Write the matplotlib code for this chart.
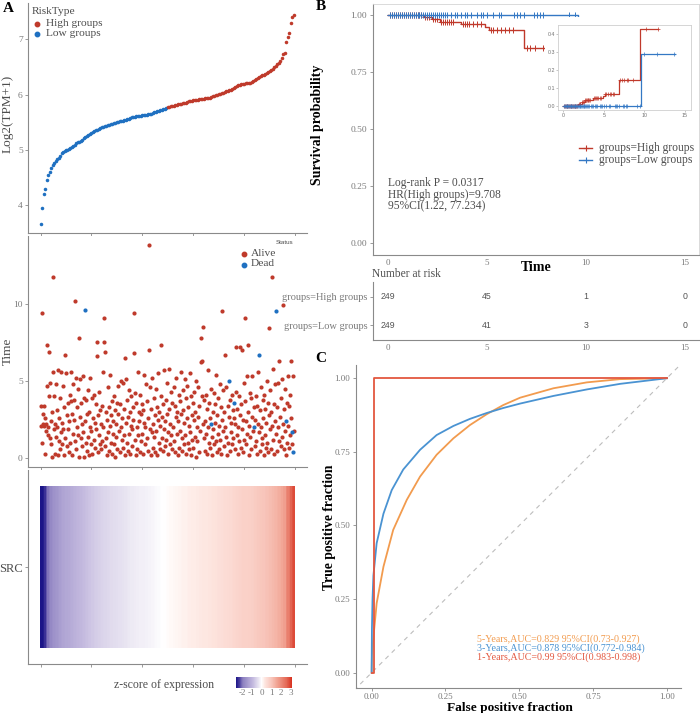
import numpy as np
import matplotlib
matplotlib.use("Agg")
import matplotlib.pyplot as plt
from matplotlib.colors import LinearSegmentedColormap, Normalize
from matplotlib.cm import ScalarMappable
from matplotlib.lines import Line2D
from matplotlib.patches import Rectangle

# ---------------- data ----------------
# panel A: SRC expression, sorted (one value every ~3 samples)
expr = [3.67, 3.95, 4.20, 4.30, 4.45, 4.55, 4.60, 4.68, 4.73, 4.77, 4.80, 4.83, 4.86, 4.90, 4.94, 4.96,
        4.98, 5.00, 5.01, 5.02, 5.04, 5.06, 5.08, 5.10, 5.12, 5.14, 5.15, 5.17, 5.19, 5.21, 5.23, 5.25,
        5.27, 5.29, 5.31, 5.32, 5.34, 5.36, 5.37, 5.38, 5.40, 5.41, 5.42, 5.43, 5.44, 5.45, 5.46, 5.47,
        5.48, 5.49, 5.49, 5.50, 5.51, 5.52, 5.52, 5.53, 5.54, 5.55, 5.56, 5.57, 5.58, 5.59, 5.59, 5.60,
        5.61, 5.61, 5.62, 5.62, 5.63, 5.63, 5.64, 5.64, 5.65, 5.65, 5.66, 5.67, 5.68, 5.69, 5.70, 5.71,
        5.72, 5.73, 5.74, 5.75, 5.76, 5.77, 5.78, 5.79, 5.79, 5.80, 5.81, 5.82, 5.83, 5.83, 5.84, 5.85,
        5.86, 5.86, 5.87, 5.88, 5.88, 5.89, 5.90, 5.90, 5.91, 5.91, 5.92, 5.92, 5.93, 5.93, 5.94, 5.94,
        5.95, 5.95, 5.96, 5.97, 5.98, 5.99, 6.00, 6.01, 6.02, 6.03, 6.04, 6.05, 6.06, 6.07, 6.08, 6.09,
        6.11, 6.12, 6.14, 6.15, 6.17, 6.18, 6.19, 6.20, 6.20, 6.21, 6.21, 6.22, 6.22, 6.23, 6.25, 6.27,
        6.29, 6.31, 6.33, 6.34, 6.35, 6.36, 6.38, 6.40, 6.41, 6.43, 6.45, 6.47, 6.50, 6.52, 6.55, 6.58,
        6.61, 6.66, 6.73, 6.75, 6.96, 7.05, 7.12, 7.30, 7.40, 7.45]
n_samples = 498
n_low = 249

# panel A: survival time per sample (in risk order)
surv_time = [
    2.1, 3.4, 1.0, 9.4, 2.2, 2.9, 3.4, 2.1, 0.3, 2.6, 1.8, 2.2, 7.3, 4.7, 2.0, 1.5, 6.9, 4.0, 4.9, 1.3,
    0.9, 2.4, 3.0, 0.1, 5.6, 11.7, 1.9, 4.0, 2.2, 0.3, 4.8, 1.4, 3.1, 2.0, 0.2, 5.7, 1.1, 2.6, 3.9, 0.6,
    1.7, 5.6, 2.3, 0.9, 4.7, 1.9, 0.2, 3.3, 1.3, 6.7, 5.5, 2.8, 0.8, 1.9, 3.6, 0.4, 2.4, 4.1, 1.0, 5.6,
    3.7, 2.9, 0.2, 1.6, 4.8, 2.5, 3.8, 10.2, 1.1, 5.2, 0.6, 2.0, 3.3, 1.5, 4.5, 7.8, 0.1, 2.7, 5.1, 1.3,
    3.6, 0.8, 2.2, 5.3, 1.7, 0.1, 3.9, 9.6, 2.4, 1.0, 3.8, 0.5, 2.9, 1.4, 4.4, 0.2, 3.0, 2.0, 5.2, 0.9,
    1.8, 3.9, 0.3, 2.6, 1.2, 4.1, 2.3, 0.7, 3.5, 1.9, 7.5, 6.6, 0.4, 2.8, 1.5, 4.3, 0.9, 3.1, 2.2, 0.6,
    3.4, 1.1, 5.6, 2.0, 9.1, 7.5, 0.8, 6.9, 1.3, 3.0, 2.5, 0.2, 4.6, 1.7, 3.3, 0.5, 2.1, 5.4, 1.0, 2.8,
    0.3, 3.7, 1.6, 2.4, 0.9, 4.0, 3.1, 0.1, 2.2, 1.4, 3.6, 0.6, 2.9, 4.7, 1.8, 0.4, 3.5, 2.0, 5.0, 1.2,
    2.6, 0.7, 4.9, 1.5, 3.2, 0.2, 6.5, 2.3, 5.1, 1.0, 3.8, 0.5, 2.7, 4.4, 1.6, 3.0, 0.3, 2.1, 4.0, 1.9,
    0.8, 3.3, 2.5, 9.4, 6.8, 1.2, 4.2, 0.2, 3.6, 2.0, 0.6, 5.6, 1.5, 3.0, 2.4, 0.4, 4.1, 1.1, 2.9, 3.5,
    1.6, 0.3, 3.1, 2.3, 5.4, 0.9, 2.0, 4.8, 1.3, 3.7, 0.5, 2.6, 7.0, 13.8, 1.9, 4.6, 0.2, 3.2, 1.7, 5.2,
    2.2, 0.7, 3.9, 1.4, 2.8, 0.4, 4.5, 1.8, 3.3, 0.2, 2.5, 5.5, 1.0, 3.0, 0.6, 2.1, 4.0, 7.3, 1.3, 2.7,
    0.5, 3.5, 1.9, 5.7, 2.4, 0.8, 3.8, 1.2, 4.9, 2.9, 0.3, 1.7, 3.2, 5.8, 0.9, 2.2, 4.3, 1.5, 3.6, 0.6,
    2.0, 4.6, 1.1, 3.4, 0.4, 2.7, 5.2, 1.6, 3.0, 0.2, 2.4, 4.1, 0.7, 3.7, 1.8, 5.6, 2.9, 0.5, 1.3, 4.4,
    3.1, 0.9, 2.3, 5.1, 1.5, 3.9, 0.3, 2.6, 4.7, 1.0, 3.3, 0.6, 2.1, 5.5, 1.7, 4.0, 0.2, 2.8, 1.2, 3.6,
    0.7, 2.5, 4.3, 1.4, 3.0, 0.1, 5.0, 2.0, 1.1, 4.6, 2.7, 0.4, 3.4, 1.8, 7.8, 6.2, 4.0, 6.3, 2.2, 8.5,
    1.3, 3.8, 0.5, 2.4, 4.1, 1.6, 0.3, 3.2, 2.0, 5.7, 1.0, 3.6, 0.7, 2.6, 4.5, 2.2, 1.4, 0.2, 3.0, 1.9,
    4.2, 0.9, 2.3, 3.5, 1.1, 5.4, 0.4, 2.8, 1.6, 3.9, 0.6, 2.1, 4.8, 1.2, 3.3, 0.3, 9.5, 2.5, 1.8, 4.4,
    0.8, 3.0, 2.0, 6.7, 1.4, 4.6, 0.2, 3.4, 1.0, 2.7, 5.0, 0.5, 3.8, 1.7, 2.3, 4.1, 0.9, 3.1, 1.3, 2.6,
    3.6, 0.6, 2.2, 4.3, 7.2, 1.5, 3.2, 0.3, 2.0, 4.0, 1.1, 7.2, 2.8, 0.7, 3.5, 1.9, 7.0, 0.4, 2.5, 4.9,
    1.2, 3.7, 9.1, 0.9, 2.4, 5.3, 1.6, 3.0, 7.3, 0.2, 2.1, 4.2, 1.4, 3.9, 0.6, 2.7, 5.3, 1.8, 3.3, 2.0,
    0.8, 2.5, 4.0, 1.1, 3.4, 0.3, 2.2, 5.6, 1.7, 6.7, 0.5, 3.1, 2.0, 4.6, 1.3, 0.9, 3.8, 2.6, 0.2, 4.1,
    1.5, 3.2, 0.7, 2.3, 5.0, 1.0, 3.6, 0.4, 2.8, 8.4, 1.9, 4.4, 0.6, 3.0, 11.7, 2.1, 1.2, 5.8, 3.5, 0.3,
    2.4, 4.8, 9.5, 1.6, 3.3, 0.5, 2.0, 4.9, 1.1, 6.3, 2.7, 0.8, 3.9, 1.4, 5.1, 2.2, 9.9, 0.6, 3.2, 1.8,
    4.5, 0.2, 2.4, 3.6, 1.0, 5.3, 2.1, 0.7, 3.4, 1.5, 4.1, 6.3, 2.6, 0.9, 1.7, 0.4, 5.3, 1.8]
dead_samples = [87, 335, 370, 380, 419, 429, 462, 482, 494, 495]

# panel B: Kaplan-Meier
km_high_t = [0, 1.85, 2.25, 2.65, 3.67, 4.9, 5.1, 6.86, 9.45, 11.7]
km_high_s = [1.0, 0.993, 0.981, 0.970, 0.959, 0.948, 0.935, 0.854, 0.57, 0.57]
km_low_t = [0, 9.6, 13.8]
km_low_s = [1.0, 0.712, 0.712]
cens_high = [0.1, 0.2, 0.3, 0.4, 0.5, 0.6, 0.7, 0.8, 0.9, 1.0, 1.1, 1.2, 1.3, 1.4, 1.5, 1.6, 1.7,
             1.9, 2.0, 2.1, 2.3, 2.4, 2.5, 2.7, 2.8, 2.9, 3.0, 3.1, 3.2, 3.3, 3.8, 3.9, 4.0, 4.1,
             4.3, 4.5, 4.7, 5.2, 5.3, 5.5, 5.7, 5.9, 6.1, 6.3, 7.0, 7.2, 7.45, 7.85, 7.96, 8.57,
             10.2, 11.7]
cens_low = [0.1, 0.2, 0.3, 0.4, 0.5, 0.6, 0.7, 0.8, 0.9, 1.0, 1.1, 1.2, 1.3, 1.4, 1.5, 1.6, 1.7,
            1.8, 1.9, 2.0, 2.1, 2.2, 2.3, 2.4, 2.5, 2.6, 2.7, 2.8, 2.9, 3.0, 3.2, 3.4, 3.5, 3.7,
            3.9, 4.0, 4.2, 4.5, 4.7, 4.8, 5.0, 5.3, 5.6, 5.7, 6.35, 6.5, 6.65, 6.85, 7.36, 7.53,
            7.7, 7.83, 9.12, 9.46, 10.0, 11.6, 13.7]
risk_times = [0, 5, 10, 15]
risk_high = [249, 45, 1, 0]
risk_low = [249, 41, 3, 0]
km_text = ["Log-rank P = 0.0317", "HR(High groups)=9.708", "95%CI(1.22, 77.234)"]

# panel C: time-dependent ROC
fpr_5y = [0, 0.001, 0.006, 0.017, 0.04, 0.073, 0.119, 0.164, 0.22, 0.277, 0.333, 0.39, 0.446,
          0.503, 0.616, 0.729, 0.842, 1.0]
tpr_5y = [0, 0.06, 0.12, 0.236, 0.36, 0.485, 0.587, 0.666, 0.74, 0.796, 0.841, 0.878, 0.909,
          0.934, 0.966, 0.986, 0.997, 1.0]
fpr_3y = [0, 0.001, 0.003, 0.006, 0.017, 0.04, 0.068, 0.107, 0.164, 0.22, 0.277, 0.333, 0.39,
          0.446, 0.503, 0.616, 0.729, 0.842, 1.0]
tpr_3y = [0, 0.15, 0.25, 0.33, 0.44, 0.54, 0.62, 0.69, 0.757, 0.807, 0.838, 0.862, 0.882,
          0.899, 0.914, 0.940, 0.962, 0.981, 1.0]
fpr_1y = [0, 0.009, 0.009, 1.0]
tpr_1y = [0, 0, 1.0, 1.0]
roc_labels = ["5-Years,AUC=0.829 95%CI(0.73-0.927)",
              "3-Years,AUC=0.878 95%CI(0.772-0.984)",
              "1-Years,AUC=0.99 95%CI(0.983-0.998)"]

# ---------------- style ----------------
plt.rcParams['font.family'] = ['Liberation Serif', 'DejaVu Serif']
RED = "#BF3A2B"
BLUE = "#1F70C1"
KM_RED = "#C0392B"
KM_BLUE = "#3478C4"
ROC_ORANGE = "#F29B4E"
ROC_BLUE = "#4A93D2"
ROC_RED = "#E3573F"
AX_COL = "#8a8a8a"
TICK_COL = "#7a7a7a"
LAB_COL = "#4d4d4d"

W, H = 700, 713
fig = plt.figure(figsize=(7, 7.13), dpi=100)


def box(x0, y0, x1, y1):
    return [x0 / W, 1 - y1 / H, (x1 - x0) / W, (y1 - y0) / H]


def ftext(x, y, s, **kw):
    return fig.text(x / W, 1 - y / H, s, **kw)


def fdot(x, y, color, ms=3.2, marker='o', **kw):
    fig.add_artist(Line2D([x / W], [1 - y / H], marker=marker, ms=ms, color=color, lw=0,
                          transform=fig.transFigure, **kw))


def classic(ax, ls=6.8):
    for s in ['top', 'right']:
        ax.spines[s].set_visible(False)
    for s in ['left', 'bottom']:
        ax.spines[s].set_color(AX_COL)
        ax.spines[s].set_linewidth(0.8)
    ax.tick_params(colors=AX_COL, labelcolor=TICK_COL, labelsize=ls, length=2.5, width=0.6, pad=1.5)


expr = np.array(expr)
rank = np.linspace(0, n_samples - 1, len(expr))
is_low = rank < n_low

# ---- A1: expression ----
ax1 = fig.add_axes(box(28.3, 3, 307, 233))
ax1.scatter(rank[is_low], expr[is_low], s=6.5, color=BLUE, lw=0)
ax1.scatter(rank[~is_low], expr[~is_low], s=6.5, color=RED, lw=0)
ax1.set_xlim(-24, 523)
ax1.set_ylim(3.5, 7.66)
ax1.set_xticks(range(0, 501, 100))
ax1.set_xticklabels([])
ax1.set_yticks([4, 5, 6, 7])
classic(ax1)
ftext(8, 114, "Log2(TPM+1)", rotation=90, ha='center', va='center', fontsize=9.5, color=LAB_COL)
ftext(32, 11, "RiskType", ha='left', va='center', fontsize=8.2, color=LAB_COL)
fdot(37, 23.5, RED)
ftext(46, 23, "High groups", ha='left', va='center', fontsize=8.2, color=LAB_COL)
fdot(37, 33.5, BLUE)
ftext(46, 33, "Low groups", ha='left', va='center', fontsize=8.2, color=LAB_COL)

# ---- A2: survival time / status ----
t_arr = np.array(surv_time)
t_rank = np.arange(len(t_arr))
dead = np.isin(t_rank, dead_samples)
ax2 = fig.add_axes(box(28.3, 236, 307, 467))
ax2.scatter(t_rank[~dead], t_arr[~dead], s=9, color=RED, lw=0)
ax2.scatter(t_rank[dead], t_arr[dead], s=9, color=BLUE, lw=0)
ax2.set_xlim(-24, 523)
ax2.set_ylim(-0.56, 14.38)
ax2.set_xticks(range(0, 501, 100))
ax2.set_xticklabels([])
ax2.set_yticks([0, 5, 10])
classic(ax2)
ftext(8, 351, "Time", rotation=90, ha='center', va='center', fontsize=9.5, color=LAB_COL)
ftext(285, 242, "Status", ha='center', va='center', fontsize=4.5, color=LAB_COL,
      family=['Liberation Sans', 'DejaVu Sans'])
fdot(244, 253.5, RED)
ftext(251, 253, "Alive", ha='left', va='center', fontsize=8.2, color=LAB_COL)
fdot(244, 264.5, BLUE)
ftext(251, 264, "Dead", ha='left', va='center', fontsize=8.2, color=LAB_COL)

# ---- A3: heatmap ----
z = (expr - expr.mean()) / expr.std()
cmap = LinearSegmentedColormap.from_list(
    "zs", [(0.0, "#1b1588"), (0.06, "#4a3f9e"), (0.12, "#8c80c0"), (0.3, "#c4badf"),
           (0.39, "#e4dfef"), (0.456, "#ffffff"), (0.52, "#fde4de"), (0.63, "#f8c7bd"),
           (0.72, "#f2a898"), (0.9, "#e46a57"), (1.0, "#d7301f")])
norm = Normalize(vmin=-2.6, vmax=3.1)
ax3 = fig.add_axes(box(28.3, 470, 307, 664))
step = rank[1] - rank[0]
edges = np.concatenate([[rank[0] - step / 2], (rank[:-1] + rank[1:]) / 2, [rank[-1] + step / 2]])
ax3.pcolormesh(edges, [-0.5, 0.5], z[None, :], cmap=cmap, norm=norm, shading='flat')
ax3.set_xlim(-24, 523)
ax3.set_ylim(-0.602, 0.602)
ax3.set_xticks(range(0, 501, 100))
ax3.set_xticklabels([])
ax3.set_yticks([0])
ax3.set_yticklabels(["SRC"])
classic(ax3, ls=9)
ax3.tick_params(axis='y', labelcolor=LAB_COL)

cax = fig.add_axes(box(236, 677, 292, 688))
cb = fig.colorbar(ScalarMappable(norm=norm, cmap=cmap), cax=cax, orientation='horizontal',
                  ticks=[-2, -1, 0, 1, 2, 3])
cb.outline.set_visible(False)
cax.tick_params(labelsize=6.5, length=0, pad=1, labelcolor=TICK_COL)
cax.set_xticklabels(["-2", "-1", "0", "1", "2", "3"])
ftext(164, 685, "z-score of expression", ha='center', va='center', fontsize=8.5, color=LAB_COL)

# ---- B: Kaplan-Meier ----
def surv_at(times, surv, c):
    idx = np.searchsorted(times, c, side='right') - 1
    return np.array(surv)[idx]


axb = fig.add_axes(box(372.7, 4, 699, 255))
axb.step(km_high_t, km_high_s, where='post', color=KM_RED, lw=1.0)
axb.step(km_low_t, km_low_s, where='post', color=KM_BLUE, lw=1.0)
axb.plot(cens_high, surv_at(km_high_t, km_high_s, cens_high), '+', color=KM_RED, ms=4, mew=0.7)
axb.plot(cens_low, surv_at(km_low_t, km_low_s, cens_low), '+', color=KM_BLUE, ms=4, mew=0.7)
axb.set_xlim(-0.76, 15.7)
axb.set_ylim(-0.051, 1.048)
axb.set_xticks(risk_times)
axb.set_yticks([0, 0.25, 0.5, 0.75, 1.0])
axb.set_yticklabels(["0.00", "0.25", "0.50", "0.75", "1.00"])
classic(axb)
axb.tick_params(axis='x', length=0, pad=3, labelsize=6.5)
for s in ['top', 'right']:
    axb.spines[s].set_visible(True)
    axb.spines[s].set_color("#d5d5d5")
    axb.spines[s].set_linewidth(0.6)
for i, s in enumerate(km_text):
    axb.text(0, 0.264 - i * 0.0505, s, ha='left', va='center', fontsize=8.3, color=LAB_COL)
ftext(536, 267, "Time", ha='center', va='center', fontsize=10, weight='bold')
ftext(317, 125, "Survival probability", rotation=90, ha='center', va='center', fontsize=10,
      weight='bold')

# legend of B
fig.add_artist(Line2D([579 / W, 592 / W], [1 - 148 / H] * 2, color=KM_RED, lw=1.0,
                      transform=fig.transFigure))
fdot(585.5, 148, KM_RED, ms=4, marker='+', mew=0.8)
ftext(599, 148, "groups=High groups", ha='left', va='center', fontsize=8.3, color=LAB_COL)
fig.add_artist(Line2D([579 / W, 592 / W], [1 - 160 / H] * 2, color=KM_BLUE, lw=1.0,
                      transform=fig.transFigure))
fdot(585.5, 160, KM_BLUE, ms=4, marker='+', mew=0.8)
ftext(599, 160, "groups=Low groups", ha='left', va='center', fontsize=8.3, color=LAB_COL)

# inset: cumulative events
fig.add_artist(Rectangle((545 / W, 1 - 121 / H), 151 / W, 104 / H, transform=fig.transFigure,
                         facecolor='white', edgecolor='none', zorder=4))
axi = fig.add_axes(box(558.3, 25, 690.7, 110))
axi.set_zorder(5)
axi.step(km_high_t, 1 - np.array(km_high_s), where='post', color=KM_RED, lw=0.9)
axi.step(km_low_t, 1 - np.array(km_low_s), where='post', color=KM_BLUE, lw=0.9)
axi.plot(cens_high, 1 - surv_at(km_high_t, km_high_s, cens_high), '+', color=KM_RED, ms=3, mew=0.5)
axi.plot(cens_low, 1 - surv_at(km_low_t, km_low_s, cens_low), '+', color=KM_BLUE, ms=3, mew=0.5)
axi.set_xlim(-0.62, 15.71)
axi.set_ylim(-0.024, 0.452)
axi.set_xticks([0, 5, 10, 15])
axi.set_yticks([0, 0.1, 0.2, 0.3, 0.4])
axi.set_yticklabels(["0.0", "0.1", "0.2", "0.3", "0.4"])
for s in axi.spines.values():
    s.set_color("#cfcfcf")
    s.set_linewidth(0.6)
axi.tick_params(labelsize=3.8, length=1.2, width=0.4, pad=1, colors="#9a9a9a",
                labelcolor="#707070")
for lab in axi.get_xticklabels() + axi.get_yticklabels():
    lab.set_family(['Liberation Sans', 'DejaVu Sans'])

# risk table
axr = fig.add_axes(box(372.7, 281.7, 699, 340))
axr.set_xlim(-0.76, 15.7)
axr.set_ylim(-0.53, 1.53)
for t, nh, nl in zip(risk_times, risk_high, risk_low):
    axr.text(t, 1, str(nh), ha='center', va='center', fontsize=6.3, color="#555555",
             family=['Liberation Sans', 'DejaVu Sans'])
    axr.text(t, 0, str(nl), ha='center', va='center', fontsize=6.3, color="#555555",
             family=['Liberation Sans', 'DejaVu Sans'])
axr.set_xticks(risk_times)
axr.set_yticks([1, 0])
axr.set_yticklabels(["groups=High groups", "groups=Low groups"])
classic(axr)
axr.tick_params(axis='x', length=0, pad=3, labelsize=6.5)
axr.tick_params(axis='y', labelsize=7.5)
ftext(372, 274, "Number at risk", ha='left', va='center', fontsize=8.3, color=LAB_COL)

# ---- C: ROC ----
axc = fig.add_axes(box(356, 365, 680.7, 688.3))
axc.plot([-0.06, 1.06], [-0.06, 1.06], ls=(0, (4, 4)), color="#bdbdbd", lw=0.8)
axc.plot(fpr_5y, tpr_5y, color=ROC_ORANGE, lw=1.3)
axc.plot(fpr_3y, tpr_3y, color=ROC_BLUE, lw=1.3)
axc.plot(fpr_1y, tpr_1y, color=ROC_RED, lw=1.3)
axc.set_xlim(-0.053, 1.047)
axc.set_ylim(-0.053, 1.045)
ticks = [0, 0.25, 0.5, 0.75, 1.0]
tlabels = ["0.00", "0.25", "0.50", "0.75", "1.00"]
axc.set_xticks(ticks)
axc.set_xticklabels(tlabels)
axc.set_yticks(ticks)
axc.set_yticklabels(tlabels)
classic(axc, ls=6.5)
axc.tick_params(axis='x', pad=0.8)
for i, (s, c) in enumerate(zip(roc_labels, [ROC_ORANGE, ROC_BLUE, ROC_RED])):
    axc.text(0.356, 0.113 - i * 0.031, s, ha='left', va='center', fontsize=7.2, color=c)
ftext(510, 707.5, "False positive fraction", ha='center', va='center', fontsize=9.6,
      weight='bold')
ftext(329, 527, "True positive fraction", rotation=90, ha='center', va='center', fontsize=9.8,
      weight='bold')

# panel letters
ftext(8, 9, "A", ha='center', va='center', fontsize=11, weight='bold')
ftext(321, 7, "B", ha='center', va='center', fontsize=11, weight='bold')
ftext(321, 358, "C", ha='center', va='center', fontsize=11, weight='bold')

fig.savefig("out.png", dpi=100)
